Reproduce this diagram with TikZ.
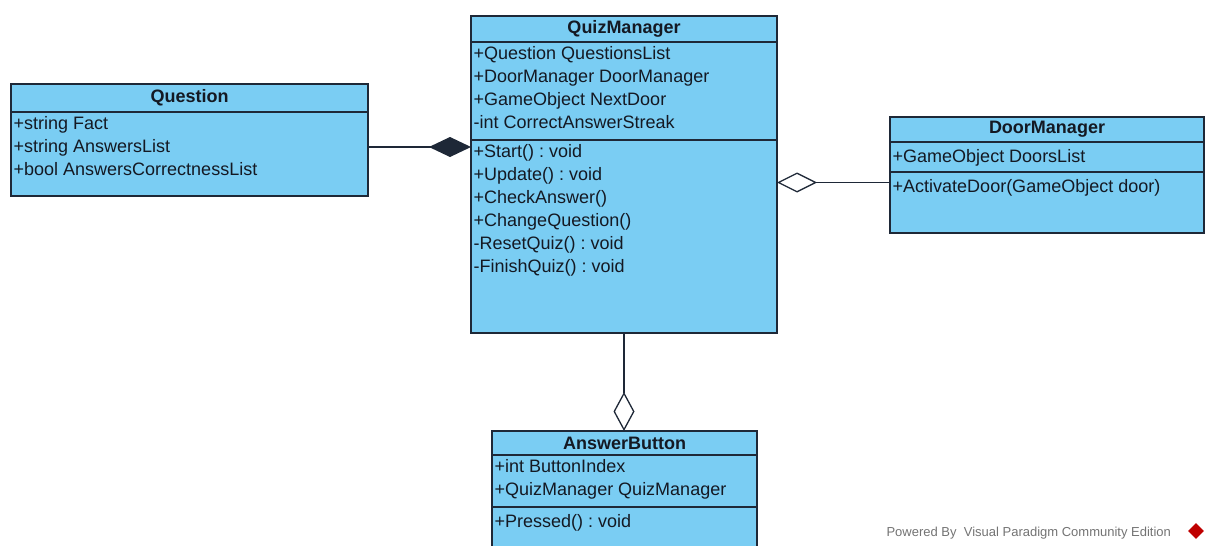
\documentclass[tikz,border=0pt]{standalone}
\usepackage{fontspec}
\setmainfont{Liberation Sans}
\usetikzlibrary{arrows.meta,positioning}
\frenchspacing
\definecolor{clsfill}{RGB}{122,205,243}
\definecolor{clsline}{RGB}{30,40,55}
\definecolor{clstext}{RGB}{20,25,35}
\newcommand\umlfont{\fontsize{18}{23}\selectfont}
\tikzset{part/.style={draw=clsline, fill=clsfill, line width=1.2pt,
  inner sep=0pt, outer sep=0pt}}
\tikzset{head/.style={part, anchor=north, text=clstext, font=\umlfont\bfseries}}
\tikzset{members/.style={anchor=north west, align=left, inner xsep=2.5pt,
  inner ysep=4.5pt, text=clstext, execute at begin node=\strut}}
\tikzset{comp/.style={draw=clsline, line width=1.3pt, -{Diamond[length=42pt,width=20pt]}}}
\tikzset{aggr/.style={draw=clsline, line width=1.3pt, -{Diamond[open,length=40pt,width=20pt]}}}

\begin{document}
\begin{tikzpicture}[x=1pt, y=-1pt, font=\umlfont]
  \clip (0,0) rectangle (1205,546);

  % Question
  \node[head, minimum width=357pt, minimum height=28pt] (question) at (189.5,84) {Question};
  \node[part, minimum width=357pt, minimum height=84pt, below=0pt of question] (question-attr) {};
  \node[members] (question-attr-txt) at (question-attr.north west)
    {+string Fact\\+string AnswersList\\+bool AnswersCorrectnessList};

  % QuizManager
  \node[head, minimum width=306pt, minimum height=26pt] (quiz) at (624,16) {QuizManager};
  \node[part, minimum width=306pt, minimum height=98pt, below=0pt of quiz] (quiz-attr) {};
  \node[part, minimum width=306pt, minimum height=193pt, below=0pt of quiz-attr] (quiz-ops) {};
  \node[members] (quiz-attr-txt) at (quiz-attr.north west)
    {+Question QuestionsList\\+DoorManager DoorManager\\+GameObject NextDoor\\-int CorrectAnswerStreak};
  \node[members] (quiz-ops-txt) at (quiz-ops.north west)
    {+Start() : void\\+Update() : void\\+CheckAnswer()\\+ChangeQuestion()\\-ResetQuiz() : void\\-FinishQuiz() : void};

  % DoorManager
  \node[head, minimum width=314pt, minimum height=25pt] (door) at (1047,117) {DoorManager};
  \node[part, minimum width=314pt, minimum height=30pt, below=0pt of door] (door-attr) {};
  \node[part, minimum width=314pt, minimum height=61pt, below=0pt of door-attr] (door-ops) {};
  \node[members] (door-attr-txt) at (door-attr.north west) {+GameObject DoorsList};
  \node[members] (door-ops-txt) at (door-ops.north west) {+ActivateDoor(GameObject door)};

  % AnswerButton
  \node[head, minimum width=265pt, minimum height=24pt] (button) at (624.5,431) {AnswerButton};
  \node[part, minimum width=265pt, minimum height=52pt, below=0pt of button] (button-attr) {};
  \node[part, minimum width=265pt, minimum height=60pt, below=0pt of button-attr] (button-ops) {};
  \node[members] (button-attr-txt) at (button-attr.north west)
    {+int ButtonIndex\\+QuizManager QuizManager};
  \node[members] (button-ops-txt) at (button-ops.north west) {+Pressed() : void};

  % associations
  \draw[comp] ([yshift=7pt]question-attr.east) -- ([yshift=7pt]question-attr.east -| quiz-ops.west);
  \draw[aggr] ([yshift=20pt]door-ops.west) -- ([yshift=20pt]door-ops.west -| quiz-ops.east);
  \draw[draw=clsline, line width=1.3pt, -{Diamond[open,length=39pt,width=21pt]}]
    (quiz-ops.south) -- (quiz-ops.south |- button.north);

  % footer
  \node[anchor=base west, font=\fontsize{13}{15}\selectfont, text=black!55] (credit) at (883,536)
    {Powered By \ Visual Paradigm Community Edition};
  \node[fill=red!75!black, rotate=45, minimum size=11pt, inner sep=0pt] (logo) at (1196,531) {};
\end{tikzpicture}
\end{document}
